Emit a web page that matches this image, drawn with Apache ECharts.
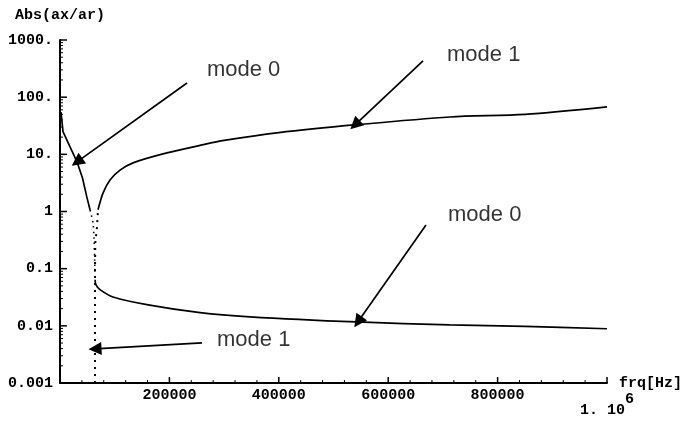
<!DOCTYPE html>
<html>
<head>
<meta charset="utf-8">
<script src="https://cdn.jsdelivr.net/npm/echarts@6/dist/echarts.min.js"></script>
<style>
  html, body { margin: 0; padding: 0; background: #fff; }
  #chart { width: 692px; height: 423px; }
</style>
</head>
<body>
<div id="chart"></div>
<script>
// values: [frequency Hz, |ax/ar|]
const mode0Left = [[1800, 55], [5500, 25], [15000, 15.8], [31000, 7.4], [41000, 3.9], [49000, 1.8], [55000, 1.06]];
const mode0Steep = [[55000, 1.06], [60300, 0.63], [62200, 0.32], [63500, 0.13], [64000, 0.064]];
const mode0Right = [[64000, 0.064], [65800, 0.052], [73100, 0.043], [97000, 0.032], [164000, 0.023], [256000, 0.017],
  [347000, 0.0144], [543000, 0.0117], [713000, 0.0104], [850000, 0.0098], [1000000, 0.0089]];
const mode1Steep = [[64000, 0.001], [64000, 0.1], [64500, 0.28], [67600, 0.53], [69500, 1.07]];
const mode1Right = [[69500, 1.07], [78600, 2.1], [91400, 3.57], [109700, 5.3], [133500, 7.1], [188300, 10.2],
  [256000, 14.3], [300000, 17.5], [400000, 24], [543000, 33], [713000, 45], [850000, 50], [1000000, 67.5]];

const yLabels = { '1000': '1000.', '100': '100.', '10': '10.', '1': '1', '0.1': '0.1', '0.01': '0.01', '0.001': '0.001' };

// tick positions (Mathematica-style inward ticks)
const xMajor = [200000, 400000, 600000, 800000, 1000000];
const xMinor = [40000, 80000, 120000, 160000, 240000, 280000, 320000, 360000, 440000, 480000, 520000, 560000,
  640000, 680000, 720000, 760000, 840000, 880000, 920000, 960000];
const yDecades = [0.001, 0.01, 0.1, 1, 10, 100, 1000];
const yMinorSteps = [2, 3, 4, 5, 6, 7, 8, 9];

// annotations: label anchor and arrow (from -> tip)
const noteText = ['mode 0', 'mode 1', 'mode 0', 'mode 1'];
const noteAt = [[268700, 299], [707500, 547], [709300, 0.873], [287000, 0.00569]];
const arrowFrom = [[232200, 177], [663600, 430], [669100, 0.583], [259600, 0.00505]];
const arrowTo = [[31100, 7.37], [539300, 32.7], [544800, 0.01175], [64000, 0.00396]];

const mono = 'Liberation Mono';
const solid = { color: '#000', width: 1.7 };
const dots = { color: '#000', width: 1.6, type: [1.5, 4] };

// [x, y, length, horizontal?]
const tickData = [
  ...xMajor.map(v => [v, 0.001, 6, 0]),
  ...xMinor.map(v => [v, 0.001, 3, 0]),
  ...yDecades.map(d => [0, d, 7, 1]),
  ...yDecades.slice(0, -1).flatMap(d => yMinorSteps.map(s => [0, d * s, 3, 1]))
];

const chart = echarts.init(document.getElementById('chart'));
chart.setOption({
  animation: false,
  grid: { left: 60, right: 85, top: 40, bottom: 40 },
  xAxis: {
    type: 'value', min: 0, max: 1000000, interval: 200000,
    name: 'frq[Hz]', nameLocation: 'end', nameGap: 12,
    nameTextStyle: { fontFamily: mono, fontWeight: 'bold', fontSize: 15, color: '#000', verticalAlign: 'middle', padding: [0, 0, 8, 0] },
    axisLine: { show: true, onZero: false, lineStyle: { color: '#000', width: 2 } },
    axisTick: { show: false },
    splitLine: { show: false },
    axisLabel: {
      margin: 5, fontFamily: mono, fontWeight: 'bold', fontSize: 15, color: '#000',
      formatter: v => v === 0 ? '' : v === 1000000 ? '{n|1. 10}{s|6}' : String(v),
      rich: {
        n: { fontFamily: mono, fontWeight: 'bold', fontSize: 15, color: '#000', verticalAlign: 'bottom', padding: [15, 0, 0, 0] },
        s: { fontFamily: mono, fontWeight: 'bold', fontSize: 15, color: '#000', verticalAlign: 'top', padding: [4, 0, 0, 0] }
      }
    }
  },
  yAxis: {
    type: 'log', logBase: 10, min: 0.001, max: 1000,
    name: 'Abs(ax/ar)', nameLocation: 'end', nameGap: 25,
    nameTextStyle: { fontFamily: mono, fontWeight: 'bold', fontSize: 15, color: '#000', align: 'center', verticalAlign: 'middle' },
    axisLine: { show: true, onZero: false, lineStyle: { color: '#000', width: 2 } },
    axisTick: { show: false },
    splitLine: { show: false },
    axisLabel: {
      margin: 7, fontFamily: mono, fontWeight: 'bold', fontSize: 15, color: '#000',
      formatter: v => yLabels[String(+(+v).toPrecision(3))] || ''
    }
  },
  series: [
    { type: 'line', data: mode0Left, showSymbol: false, lineStyle: solid },
    { type: 'line', data: mode0Steep, showSymbol: false, smooth: 0.3, lineStyle: dots },
    { type: 'line', data: mode0Right, showSymbol: false, smooth: 0.3, lineStyle: solid },
    { type: 'line', data: mode1Steep, showSymbol: false, lineStyle: { color: '#000', width: 2, type: [2, 5] } },
    { type: 'line', data: mode1Right, showSymbol: false, smooth: 0.3, lineStyle: solid },
    {
      type: 'lines', coordinateSystem: 'cartesian2d',
      symbol: ['none', 'triangle'], symbolSize: 13,
      lineStyle: { color: '#000', width: 1.7, opacity: 1 },
      data: arrowFrom.map((p, i) => ({ coords: [p, arrowTo[i]] }))
    },
    {
      type: 'scatter', symbolSize: 0,
      label: { show: true, position: 'right', distance: 0, formatter: p => p.name,
        fontFamily: 'Liberation Sans', fontSize: 22, color: '#000' },
      data: noteAt.map((p, i) => ({ name: noteText[i], value: p }))
    },
    {
      // inward axis ticks, placed through the axis scales
      type: 'custom', clip: false, silent: true, z: 5,
      renderItem: (params, api) => {
        const p = api.coord([api.value(0), api.value(1)]);
        const len = api.value(2);
        const horiz = api.value(3) === 1;
        return {
          type: 'line',
          shape: horiz ? { x1: p[0], y1: p[1], x2: p[0] + len, y2: p[1] }
                       : { x1: p[0], y1: p[1], x2: p[0], y2: p[1] - len },
          style: { stroke: '#000', lineWidth: len > 4 ? 1.5 : 1 }
        };
      },
      data: tickData
    }
  ]
});
</script>
</body>
</html>
